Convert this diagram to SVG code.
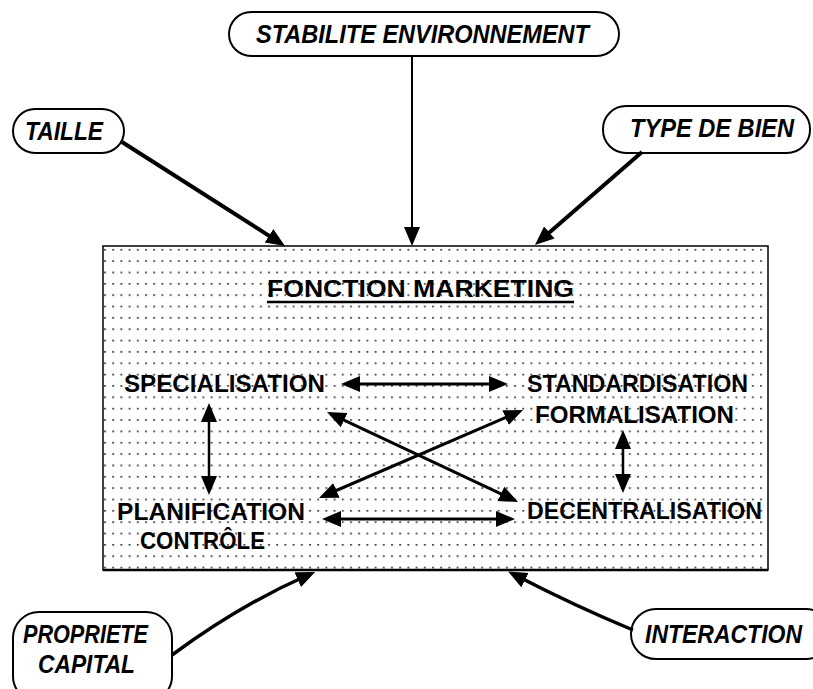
<svg xmlns="http://www.w3.org/2000/svg" width="813" height="689" viewBox="0 0 813 689">
<style>
.pill{fill:#fff;stroke:#000;stroke-width:2}
.pt{font-family:"Liberation Sans",Arial,sans-serif;font-style:italic;font-weight:bold;font-size:25px;fill:#000}
.bt{font-family:"Liberation Sans",Arial,sans-serif;font-weight:bold;font-size:24px;fill:#000}
.c{fill:none;stroke:#000;stroke-linecap:butt}
</style>
<defs>
<pattern id="dots" x="104" y="247" width="8.2" height="11.35" patternUnits="userSpaceOnUse">
<rect x="0" y="2" width="2" height="1.5" fill="#333"/>
</pattern>
<marker id="ah" markerUnits="userSpaceOnUse" markerWidth="20" markerHeight="18" viewBox="0 0 20 18" refX="9" refY="9" orient="auto-start-reverse">
<path d="M0,1 L19,9 L0,17 z" fill="#000"/>
</marker>
</defs>
<rect width="813" height="689" fill="#fff"/>

<g id="box">
<rect x="103" y="246" width="665" height="324" fill="url(#dots)" stroke="#000" stroke-width="1.5"/>
<line x1="103" y1="570" x2="768" y2="570" stroke="#000" stroke-width="2.5"/>
</g>

<g id="title">
<text class="bt" x="267" y="297" textLength="307" lengthAdjust="spacingAndGlyphs">FONCTION MARKETING</text>
<line x1="267" y1="302" x2="574" y2="302" stroke="#000" stroke-width="2.5"/>
</g>

<g id="stabilite">
<rect class="pill" x="229" y="12" width="390" height="44" rx="22"/>
<text class="pt" x="256" y="43" textLength="333" lengthAdjust="spacingAndGlyphs">STABILITE ENVIRONNEMENT</text>
</g>
<g id="taille">
<rect class="pill" x="13" y="109" width="111" height="44" rx="22"/>
<text class="pt" x="25" y="140" textLength="78" lengthAdjust="spacingAndGlyphs">TAILLE</text>
</g>
<g id="type-de-bien">
<rect class="pill" x="603" y="106" width="207" height="47" rx="23"/>
<text class="pt" x="630" y="137" textLength="164" lengthAdjust="spacingAndGlyphs">TYPE DE BIEN</text>
</g>
<g id="propriete-capital">
<rect class="pill" x="13" y="612" width="159" height="90" rx="26"/>
<text class="pt" x="23" y="643" textLength="125" lengthAdjust="spacingAndGlyphs">PROPRIETE</text>
<text class="pt" x="38" y="673" textLength="97" lengthAdjust="spacingAndGlyphs">CAPITAL</text>
</g>
<g id="interaction">
<rect class="pill" x="631" y="609" width="200" height="50" rx="25"/>
<text class="pt" x="645" y="643" textLength="157" lengthAdjust="spacingAndGlyphs">INTERACTION</text>
</g>

<g id="specialisation"><text class="bt" x="124" y="392" textLength="201" lengthAdjust="spacingAndGlyphs">SPECIALISATION</text></g>
<g id="standardisation-formalisation">
<text class="bt" x="527" y="392" textLength="221" lengthAdjust="spacingAndGlyphs">STANDARDISATION</text>
<text class="bt" x="535" y="423" textLength="199" lengthAdjust="spacingAndGlyphs">FORMALISATION</text>
</g>
<g id="planification-controle">
<text class="bt" x="117" y="520" textLength="188" lengthAdjust="spacingAndGlyphs">PLANIFICATION</text>
<text class="bt" x="140" y="549" textLength="125" lengthAdjust="spacingAndGlyphs">CONTRÔLE</text>
</g>
<g id="decentralisation"><text class="bt" x="527" y="519" textLength="235" lengthAdjust="spacingAndGlyphs">DECENTRALISATION</text></g>

<g id="connectors">
<line class="c" x1="412" y1="56" x2="412" y2="236" stroke-width="2" marker-end="url(#ah)"/>
<line class="c" x1="122" y1="142" x2="276.6" y2="240.6" stroke-width="4" marker-end="url(#ah)"/>
<line class="c" x1="642" y1="152" x2="542.5" y2="238.4" stroke-width="4" marker-end="url(#ah)"/>
<path class="c" d="M172,655 Q240,605 306,576" stroke-width="3.5" marker-end="url(#ah)"/>
<path class="c" d="M633,630 Q575,606 517,576" stroke-width="3.5" marker-end="url(#ah)"/>
<line class="c" x1="351" y1="384" x2="498" y2="384" stroke-width="3" marker-start="url(#ah)" marker-end="url(#ah)"/>
<line class="c" x1="209" y1="413" x2="209" y2="485" stroke-width="2.5" marker-start="url(#ah)" marker-end="url(#ah)"/>
<line class="c" x1="623" y1="440" x2="623" y2="483" stroke-width="2.5" marker-start="url(#ah)" marker-end="url(#ah)"/>
<line class="c" x1="336" y1="416.3" x2="509" y2="497.7" stroke-width="3" marker-start="url(#ah)" marker-end="url(#ah)"/>
<line class="c" x1="328.2" y1="494" x2="513.8" y2="414" stroke-width="3" marker-start="url(#ah)" marker-end="url(#ah)"/>
<line class="c" x1="332" y1="519" x2="505" y2="519" stroke-width="3" marker-start="url(#ah)" marker-end="url(#ah)"/>
</g>
</svg>
